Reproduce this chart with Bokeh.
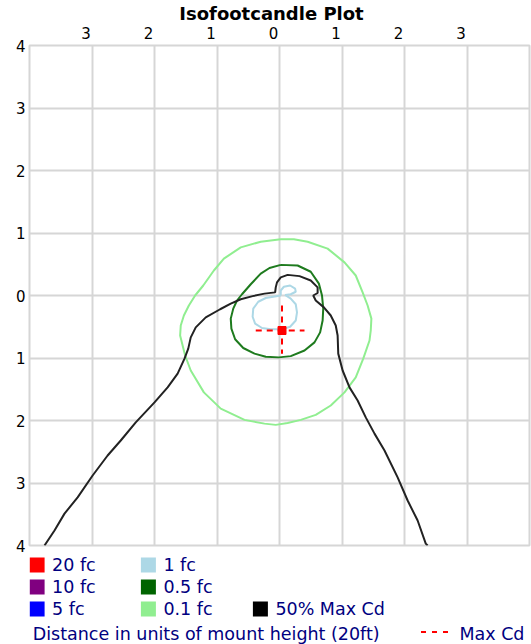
from bokeh.plotting import figure
from bokeh.models import Range1d, LinearAxis, FixedTicker
from bokeh.layouts import column
from bokeh.embed import file_html
from bokeh.resources import INLINE
from bokeh.core.properties import value

# ---------------- data ----------------
title_text = "Isofootcandle Plot"
x_ticks = [-3, -2, -1, 0, 1, 2, 3]
y_ticks = [-4, -3, -2, -1, 0, 1, 2, 3, 4]
grid_ticks = [-3, -2, -1, 0, 1, 2, 3]

# 0.1 fc contour (light green)
fc01_x = [0.02, 0.23, 0.45, 0.77, 1.04, 1.22, 1.33, 1.41, 1.47, 1.46, 1.44, 1.34, 1.22, 1.04, 0.82, 0.58,
          0.34, 0.13, -0.06, -0.24, -0.56, -0.94, -1.21, -1.42, -1.51, -1.55, -1.59, -1.58, -1.53, -1.45,
          -1.35, -1.22, -1.05, -0.89, -0.62, -0.30, 0.02]
fc01_y = [0.90, 0.90, 0.86, 0.75, 0.53, 0.32, 0.05, -0.16, -0.37, -0.56, -0.72, -1.01, -1.31, -1.55, -1.76,
          -1.91, -1.99, -2.04, -2.07, -2.05, -1.99, -1.81, -1.55, -1.20, -0.96, -0.80, -0.64, -0.48, -0.32,
          -0.16, 0.00, 0.16, 0.40, 0.59, 0.77, 0.86, 0.90]

# 0.5 fc contour (dark green)
fc05_x = [0.02, 0.29, 0.50, 0.63, 0.68, 0.70, 0.69, 0.65, 0.56, 0.40, 0.18, -0.01, -0.22, -0.40, -0.58,
          -0.71, -0.77, -0.78, -0.74, -0.68, -0.60, -0.46, -0.30, -0.16, 0.02]
fc05_y = [0.49, 0.48, 0.38, 0.19, 0.00, -0.21, -0.40, -0.59, -0.75, -0.88, -0.97, -0.99, -0.98, -0.93, -0.84,
          -0.70, -0.53, -0.37, -0.21, -0.08, 0.02, 0.18, 0.35, 0.44, 0.49]

# 1 fc contour (light blue)
fc1_x = [0.02, 0.02, 0.07, 0.17, 0.25, 0.26, 0.18, 0.09, 0.18, 0.26, 0.28, 0.26, 0.17, 0.04, -0.14, -0.28,
         -0.39, -0.43, -0.42, -0.34, -0.22, 0.02]
fc1_y = [0.00, 0.08, 0.14, 0.16, 0.11, 0.06, 0.02, 0.01, -0.05, -0.14, -0.27, -0.40, -0.50, -0.54, -0.54,
         -0.52, -0.45, -0.34, -0.21, -0.10, -0.04, 0.00]

# 50% of maximum candela trace (black)
maxcd50_x = [-3.76, -3.60, -3.44, -3.23, -2.99, -2.75, -2.54, -2.30, -2.00, -1.79, -1.63, -1.52, -1.46, -1.42,
             -1.34, -1.18, -0.95, -0.78, -0.62, -0.43, -0.24, -0.07, -0.06, -0.04, 0.02, 0.13, 0.32, 0.50,
             0.61, 0.61, 0.54, 0.58, 0.71, 0.82, 0.90, 0.93, 0.94, 1.01, 1.12, 1.25, 1.38, 1.52, 1.68, 1.89,
             2.05, 2.21, 2.34, 2.37]
maxcd50_y = [-4.00, -3.76, -3.49, -3.23, -2.88, -2.56, -2.32, -2.03, -1.71, -1.47, -1.25, -1.01, -0.85, -0.67,
             -0.51, -0.35, -0.22, -0.13, -0.06, -0.01, 0.03, 0.05, 0.13, 0.21, 0.29, 0.33, 0.31, 0.24,
             0.13, 0.04, 0.00, -0.08, -0.19, -0.32, -0.48, -0.64, -0.93, -1.20, -1.47, -1.68, -1.95, -2.21,
             -2.48, -2.91, -3.28, -3.60, -3.97, -4.00]

# maximum candela point and its cross
max_cd_x = [0.04]
max_cd_y = [-0.56]
cross_h_x = [-0.38, 0.40]
cross_v_y = [-0.16, -0.93]

# legend
legend_labels = ["20 fc", "10 fc", "5 fc", "1 fc", "0.5 fc", "0.1 fc", "50% Max Cd"]
legend_colors = ["#FF0000", "#800080", "#0000FF", "#ADD8E6", "#006400", "#90EE90", "#000000"]
axis_note = "Distance in units of mount height (20ft)"
max_cd_label = "Max Cd"

# ---------------- styles ----------------
FONT = "DejaVu Sans"
GRID = "#d6d6d6"
LEFT, FW, RIGHT = 29, 500, 2
TXT_DY = 0.371  # rendered alphabetic baseline sits this many em below the requested y


def strip(height):
    # frames in a column are aligned, so the strips share the main frame's x extent
    f = figure(frame_width=FW, frame_height=height, x_range=Range1d(LEFT, LEFT + FW),
               y_range=Range1d(height, 0), x_axis_location=None, y_axis_location=None,
               output_backend="svg", toolbar_location=None,
               min_border_left=LEFT, min_border_right=RIGHT, min_border_top=0, min_border_bottom=0)
    f.outline_line_color = None
    f.grid.visible = False
    f.border_fill_alpha = 0
    f.background_fill_alpha = 0
    return f


# ---------------- title strip (overlaps the plot's top border a little) ----------------
TH, OVERLAP = 26, 6
tp = strip(TH)
tp.styles = {"margin-bottom": f"-{OVERLAP}px", "position": "relative", "z-index": "1"}
tp.text(x=[271], y=[19.8 - TXT_DY * 18], text=[title_text], text_font=value(FONT),
        text_font_size=value("18px"), text_font_style="bold", text_color="#000000",
        text_align="center", text_baseline="alphabetic")

# ---------------- main plot ----------------
p = figure(frame_width=FW, frame_height=500, x_range=Range1d(-4, 4), y_range=Range1d(-4, 4),
           x_axis_location=None, y_axis_location=None, output_backend="svg", toolbar_location=None,
           min_border_left=LEFT, min_border_right=RIGHT, min_border_top=45 - (TH - OVERLAP),
           min_border_bottom=9, background_fill_color="white")
p.border_fill_alpha = 0
p.outline_line_color = GRID
p.outline_line_width = 2

shift = 0.096
p.extra_x_ranges = {"lbl": Range1d(-4 + shift, 4 + shift)}
top_axis = LinearAxis(x_range_name="lbl", ticker=FixedTicker(ticks=x_ticks),
                      major_label_overrides={t: str(abs(t)) for t in x_ticks})
left_axis = LinearAxis(ticker=FixedTicker(ticks=y_ticks),
                       major_label_overrides={t: str(abs(t)) for t in y_ticks})
for ax, st in ((top_axis, 7), (left_axis, 4)):
    ax.axis_line_color = None
    ax.major_tick_line_color = None
    ax.minor_tick_line_color = None
    ax.major_tick_out = 0
    ax.major_tick_in = 0
    ax.minor_tick_out = 0
    ax.major_label_standoff = st
    ax.major_label_text_font = FONT
    ax.major_label_text_font_size = "15px"
    ax.major_label_text_color = "#000000"
p.add_layout(top_axis, "above")
p.add_layout(left_axis, "left")

p.xgrid.ticker = FixedTicker(ticks=grid_ticks)
p.ygrid.ticker = FixedTicker(ticks=grid_ticks)
p.grid.grid_line_color = GRID
p.grid.grid_line_width = 2

p.line(fc01_x, fc01_y, line_color="#90EE90", line_width=2)
p.line(fc05_x, fc05_y, line_color="#1E7B1E", line_width=2)
p.line(fc1_x, fc1_y, line_color="#ADD8E6", line_width=2)
p.line(maxcd50_x, maxcd50_y, line_color="#222222", line_width=2)

p.segment(x0=[cross_h_x[0], max_cd_x[0]], y0=[max_cd_y[0], cross_v_y[0]],
          x1=[cross_h_x[1], max_cd_x[0]], y1=[max_cd_y[0], cross_v_y[1]],
          line_color="#FF0000", line_width=2, line_dash="6 5")
p.scatter(max_cd_x, max_cd_y, marker="square", size=8, fill_color="#FF0000", line_color="#FF0000")

# ---------------- legend strip ----------------
LH = 90
lg = strip(LH)
col_x = [36.6, 147.9, 259.9]
row_y = [10.6, 32.6, 54.6]
sw_x, sw_y, tx, ty = [], [], [], []
for i, lab in enumerate(legend_labels):
    c, r = (i // 3, i % 3) if i < 6 else (2, 2)
    sw_x.append(col_x[c]); sw_y.append(row_y[r])
    tx.append(col_x[c] + 15.0); ty.append(row_y[r] + 6.8 - TXT_DY * 17.5)
lg.rect(x=sw_x, y=sw_y, width=15, height=15, fill_color=legend_colors, line_color=None)
lg.text(x=tx, y=ty, text=legend_labels, text_font=value(FONT), text_font_size=value("17.5px"),
        text_color="#000080", text_align="left", text_baseline="alphabetic")

lg.text(x=[32.2, 458.9], y=[86.0 - TXT_DY * 17.5] * 2, text=[axis_note, max_cd_label],
        text_font=value(FONT), text_font_size=value("17.5px"), text_color="#000080",
        text_align="left", text_baseline="alphabetic")
lg.line(x=[420.5, 449.5], y=[77.6, 77.6], line_color="#FF0000", line_width=2, line_dash="5 6")

layout = column(tp, p, lg, spacing=0)
open("out.html", "w").write(file_html(layout, INLINE))
